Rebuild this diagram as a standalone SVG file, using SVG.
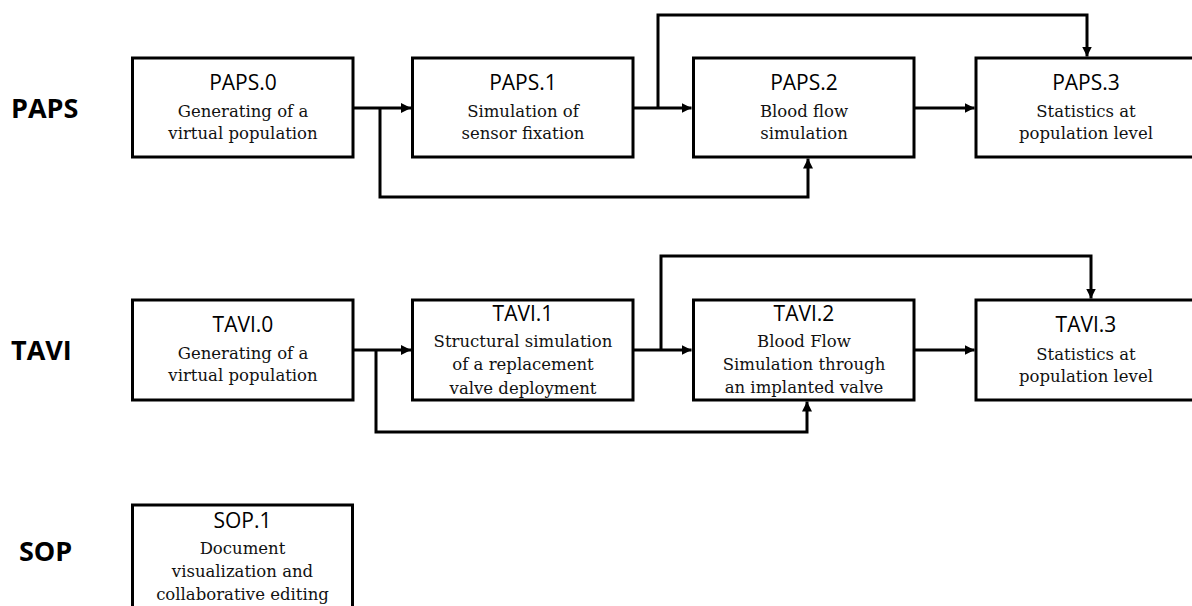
<svg xmlns="http://www.w3.org/2000/svg" width="1192" height="606" viewBox="0 0 1192 606">
  <style>
    .box { fill: #ffffff; stroke: #000000; stroke-width: 3; }
    .title { font-family: "Open Sans", "Liberation Sans", sans-serif; font-size: 21px; fill: #000000; text-anchor: middle; }
    .body { font-family: "DejaVu Serif", "Liberation Serif", serif; font-size: 16.5px; fill: #111111; text-anchor: middle; }
    .row { font-family: "Open Sans", "Liberation Sans", sans-serif; font-size: 27px; font-weight: bold; fill: #000000; }
    .conn { fill: none; stroke: #000000; stroke-width: 3; }
  </style>
  <defs>
    <marker id="arrow" markerUnits="userSpaceOnUse" viewBox="0 0 10 10" refX="10" refY="5" markerWidth="10" markerHeight="10" orient="auto">
      <path d="M0,0 L10,5 L0,10 Z" fill="#000000"/>
    </marker>
  </defs>
  <rect width="1192" height="606" fill="#ffffff"/>

  <g id="row-labels">
    <text class="row" x="11" y="118">PAPS</text>
    <text class="row" x="11" y="360">TAVI</text>
    <text class="row" x="19" y="561">SOP</text>
  </g>

  <g id="connectors">
    <path class="conn" d="M353 108 H411" marker-end="url(#arrow)"/>
    <path class="conn" d="M380 108 V197 H808 V158.5" marker-end="url(#arrow)"/>
    <path class="conn" d="M633 108 H691.5" marker-end="url(#arrow)"/>
    <path class="conn" d="M658 108 V15 H1087 V56.5" marker-end="url(#arrow)"/>
    <path class="conn" d="M914 108 H974.5" marker-end="url(#arrow)"/>

    <path class="conn" d="M353 350 H411" marker-end="url(#arrow)"/>
    <path class="conn" d="M376 350 V432 H807 V401.5" marker-end="url(#arrow)"/>
    <path class="conn" d="M633 350 H691.5" marker-end="url(#arrow)"/>
    <path class="conn" d="M661 350 V256 H1091 V298.5" marker-end="url(#arrow)"/>
    <path class="conn" d="M914 350 H974.5" marker-end="url(#arrow)"/>
  </g>

  <g id="PAPS0">
    <rect class="box" x="132.5" y="58" width="220.5" height="99"/>
    <text class="title" x="243" y="90">PAPS.0</text>
    <text class="body" x="243" y="117">Generating of a</text>
    <text class="body" x="243" y="139">virtual population</text>
  </g>
  <g id="PAPS1">
    <rect class="box" x="412.5" y="58" width="220.5" height="99"/>
    <text class="title" x="523" y="90">PAPS.1</text>
    <text class="body" x="523" y="117">Simulation of</text>
    <text class="body" x="523" y="139">sensor fixation</text>
  </g>
  <g id="PAPS2">
    <rect class="box" x="693.5" y="58" width="220.5" height="99"/>
    <text class="title" x="804" y="90">PAPS.2</text>
    <text class="body" x="804" y="117">Blood flow</text>
    <text class="body" x="804" y="139">simulation</text>
  </g>
  <g id="PAPS3">
    <rect class="box" x="976" y="58" width="221" height="99"/>
    <text class="title" x="1086" y="90">PAPS.3</text>
    <text class="body" x="1086" y="117">Statistics at</text>
    <text class="body" x="1086" y="139">population level</text>
  </g>

  <g id="TAVI0">
    <rect class="box" x="132.5" y="300" width="220.5" height="100"/>
    <text class="title" x="243" y="332">TAVI.0</text>
    <text class="body" x="243" y="359">Generating of a</text>
    <text class="body" x="243" y="381">virtual population</text>
  </g>
  <g id="TAVI1">
    <rect class="box" x="412.5" y="300" width="220.5" height="100"/>
    <text class="title" x="523" y="321">TAVI.1</text>
    <text class="body" x="523" y="347">Structural simulation</text>
    <text class="body" x="523" y="370">of a replacement</text>
    <text class="body" x="523" y="394">valve deployment</text>
  </g>
  <g id="TAVI2">
    <rect class="box" x="693.5" y="300" width="220.5" height="100"/>
    <text class="title" x="804" y="321">TAVI.2</text>
    <text class="body" x="804" y="347">Blood Flow</text>
    <text class="body" x="804" y="370">Simulation through</text>
    <text class="body" x="804" y="393">an implanted valve</text>
  </g>
  <g id="TAVI3">
    <rect class="box" x="976" y="300" width="221" height="100"/>
    <text class="title" x="1086" y="332">TAVI.3</text>
    <text class="body" x="1086" y="360">Statistics at</text>
    <text class="body" x="1086" y="382">population level</text>
  </g>

  <g id="SOP1">
    <rect class="box" x="132.5" y="505" width="220" height="110"/>
    <text class="title" x="242.5" y="528">SOP.1</text>
    <text class="body" x="242.5" y="554">Document</text>
    <text class="body" x="242.5" y="577">visualization and</text>
    <text class="body" x="242.5" y="600">collaborative editing</text>
  </g>
</svg>
